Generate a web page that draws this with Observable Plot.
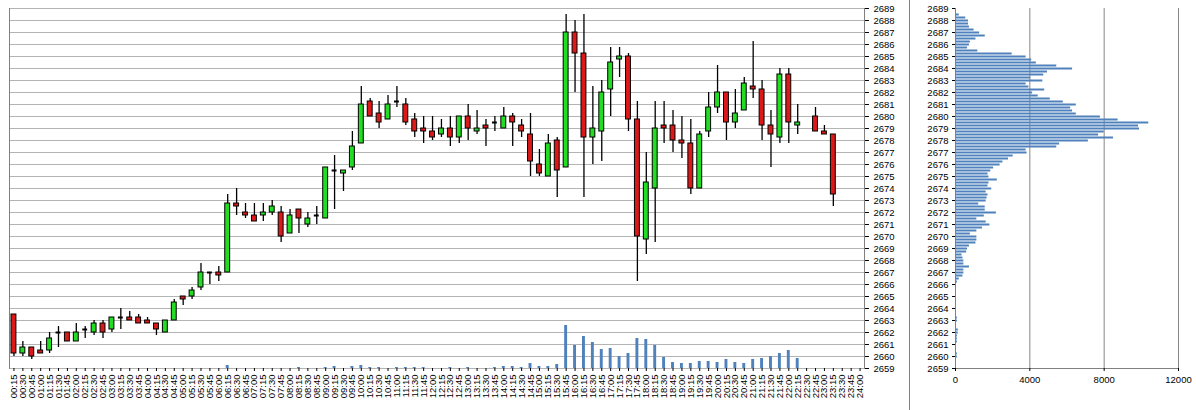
<!DOCTYPE html>
<html>
<head>
<meta charset="utf-8">
<script src="https://cdn.jsdelivr.net/npm/d3@7"></script>
<script src="https://cdn.jsdelivr.net/npm/@observablehq/plot@0.6"></script>
<style>
  html, body { margin: 0; padding: 0; background: #fff; }
  #wrap { display: flex; width: 1196px; height: 410px; overflow: hidden; }
  #left { width: 909px; height: 410px; }
  #right { width: 286px; height: 410px; border-left: 1px solid #808080; }
  svg { display: block; }
</style>
</head>
<body>
<div id="wrap"><div id="left"></div><div id="right"></div></div>
<script>
const times = ["00:15","00:30","00:45","01:00","01:15","01:30","01:45","02:00","02:15","02:30","02:45","03:00",
"03:15","03:30","03:45","04:00","04:15","04:30","04:45","05:00","05:15","05:30","05:45","06:00",
"06:15","06:30","06:45","07:00","07:15","07:30","07:45","08:00","08:15","08:30","08:45","09:00",
"09:15","09:30","09:45","10:00","10:15","10:30","10:45","11:00","11:15","11:30","11:45","12:00",
"12:15","12:30","12:45","13:00","13:15","13:30","13:45","14:00","14:15","14:30","14:45","15:00",
"15:15","15:30","15:45","16:00","16:15","16:30","16:45","17:00","17:15","17:30","17:45","18:00",
"18:15","18:30","18:45","19:00","19:15","19:30","19:45","20:00","20:15","20:30","20:45","21:00",
"21:15","21:30","21:45","22:00","22:15","22:30","22:45","23:00","23:15","23:30","23:45","24:00"];

const open = [2663.5,2660.25,2660.75,2660.5,2660.5,2662,2662,2661.25,2662.25,2662,2662.75,2662.25,
2663.25,2663.25,2663.25,2663,2662.75,2662,2663,2665,2665,2665.75,2667,2667,
2667,2672.75,2672,2671.75,2671.75,2672,2672,2670.25,2672.25,2671,2671.75,2671.5,
2675.5,2675.25,2675.75,2677.75,2681.25,2680.25,2679.75,2681.25,2681,2679.75,2679,2678.75,
2678.5,2679,2678.25,2680,2678.75,2679.25,2679.5,2679,2680,2679.25,2678.5,2676,
2675,2678,2675.75,2687,2685.25,2678.25,2678.75,2682.25,2684.75,2685,2679.75,2669.75,
2674,2679.25,2679.25,2678,2677.75,2674,2678.75,2680.75,2682,2679.5,2680.5,2682.5,
2682.25,2679.25,2678.25,2683.5,2679.25,null,2680,2678.75,2678.5,null,null,null];

const high = [2663.5,2661.25,2660.75,2661.25,2662,2662.5,2662,2662.75,2662.5,2663,2663,2663.25,
2664,2663.75,2663.5,2663.25,2662.75,2663,2664.75,2665,2665.75,2667.75,2667,2667.5,
2673.5,2674,2672.75,2672.75,2672.75,2673,2672.5,2672.25,2672.25,2672,2672.5,2675.75,
2676.75,2675.5,2678.75,2682.5,2681.5,2681.25,2681.75,2682.5,2681.5,2680.25,2680,2680,
2679.75,2680,2680,2681,2680.5,2679.75,2680,2680.75,2680.25,2679.75,2680.25,2677.25,
2678.5,2678.25,2688.5,2688,2688.5,2682.5,2683,2685.75,2685.75,2685.25,2681.25,2677,
2681.25,2681.25,2680.5,2680,2679.75,2678.75,2682,2684.25,2682,2682.25,2683.25,2686.25,
2683,2680.5,2684,2684,2681,null,2680.75,2679.25,2678.5,null,null,null];

const low = [2660,2660,2659.75,2660.25,2660.25,2660.75,2661.25,2661.25,2661.5,2661.75,2661.5,2662,
2662.25,2663,2662.75,2662.75,2661.75,2662,2663,2664.25,2664.75,2665.5,2666,2666.25,
2667,2671.75,2671.5,2671.25,2671.25,2671.75,2669.5,2670.25,2670.25,2670.75,2671,2671.5,
2672.25,2673.75,2675.5,2677.75,2680,2679,2679.75,2680.75,2679.25,2678.25,2677.75,2678,
2678.25,2677.5,2677.75,2678,2678.5,2677.5,2678.75,2679,2677.5,2678.25,2675,2675,
2675,2673.25,2675.75,2682,2673.25,2676,2676.25,2680,2683.25,2678.75,2666.25,2668.5,
2669.5,2677.75,2677,2676.5,2673.5,2674,2678.25,2680.25,2678,2679,2680.5,2681.5,
2678,2675.75,2677.75,2677.75,2678.5,null,2678.75,2678.5,2672.5,null,null,null];

const close = [2660.25,2660.75,2660,2660.25,2661.5,2662,2661.25,2662,2662.25,2662.75,2662,2663.25,
2663.25,2663,2662.75,2662.75,2662.25,2663,2664.5,2664.75,2665.5,2667,2667,2666.75,
2672.75,2672.5,2671.75,2671.25,2672,2672.5,2670,2671.75,2671.5,2671.5,2671.75,2675.75,
2675.5,2675.5,2677.5,2681,2680,2679.5,2681,2681.25,2679.5,2678.75,2678.75,2678.25,
2679,2678.25,2680,2679,2679,2679,2679.5,2680,2679.5,2678.75,2676.25,2675.25,
2677.75,2675.5,2687,2685.25,2678.25,2679,2682,2684.5,2685,2679.75,2670,2674.5,
2679,2679,2678,2677.75,2674,2678.5,2680.75,2682,2679.5,2680.25,2682.75,2682.25,
2679.25,2678.5,2683.5,2679.5,2679.5,null,2678.75,2678.5,2673.5,null,null,null];

const volume = [0,0,0,0,0,0,0,0,0,0,0,0,
0,0,0,0,0,0,0,0,0,0,0,0,
300,0,0,0,0,0,0,0,100,0,0,100,
200,0,200,300,100,100,0,100,100,100,100,0,
0,100,0,100,0,0,100,200,200,100,500,200,
200,400,4300,2300,3200,2600,1900,2000,1200,1500,3000,2900,
2300,1100,600,500,500,700,700,600,900,600,500,900,
1000,1200,1500,1800,1000,0,0,0,0,0,0,0];

const profilePrice = [2688.5,2688.25,2688,2687.75,2687.5,2687.25,2687,2686.75,2686.5,2686.25,2686,2685.75,
2685.5,2685.25,2685,2684.75,2684.5,2684.25,2684,2683.75,2683.5,2683.25,2683,2682.75,
2682.5,2682.25,2682,2681.75,2681.5,2681.25,2681,2680.75,2680.5,2680.25,2680,2679.75,
2679.5,2679.25,2679,2678.75,2678.5,2678.25,2678,2677.75,2677.5,2677.25,2677,2676.75,
2676.5,2676.25,2676,2675.75,2675.5,2675.25,2675,2674.75,2674.5,2674.25,2674,2673.75,
2673.5,2673.25,2673,2672.75,2672.5,2672.25,2672,2671.75,2671.5,2671.25,2671,2670.75,
2670.5,2670.25,2670,2669.75,2669.5,2669.25,2669,2668.75,2668.5,2668.25,2668,2667.75,
2667.5,2667.25,2667,2666.75,2666.5,2666.25,2666,2665.75,2665.5,2665.25,2665,2664.75,
2664.5,2664.25,2664,2663.75,2663.5,2663.25,2663,2662.75,2662.5,2662.25,2662,2661.75,
2661.5,2661.25,2661,2660.75,2660.5,2660.25,2660,2659.75];

const profileVolume = [200,550,700,700,750,1000,1300,1600,1100,800,750,650,
1200,3050,3800,4100,4350,5450,6300,4950,4750,4050,4700,3800,
3950,4800,4150,4450,5100,5800,6500,6200,6300,6500,7800,8750,
10400,9850,9900,8000,7700,8500,7150,5600,5450,3800,3850,3100,
2850,2550,2400,2050,1900,1750,1800,2250,1800,1750,1950,1650,
1750,1700,1650,1250,1600,1600,2200,1550,1150,1650,1850,1450,
1150,800,1150,1150,1100,750,650,600,350,400,450,450,
750,450,450,400,200,100,50,50,50,50,50,50,
50,50,50,50,50,100,100,50,50,150,150,100,
100,100,50,50,50,100,100,50];

const priceTicks = d3.range(2659, 2690);
const profileTicks = [0, 4000, 8000, 12000];

const GREEN = "#22dd22", RED = "#dd1818";
const candles = times.map((t, i) => ({t, o: open[i], h: high[i], l: low[i], c: close[i], v: volume[i]}));
const hasCandle = candles.filter(d => d.o != null);
const bodies = hasCandle.filter(d => d.o !== d.c);
const dojis = hasCandle.filter(d => d.o === d.c);
const vols = candles.filter(d => d.v > 0);
const VOLUNIT = 1200; // volume per price unit on the hidden volume axis

const font = "Liberation Sans, Arial, sans-serif";

const left = Plot.plot({
  width: 909, height: 410,
  marginLeft: 9, marginRight: 45, marginTop: 8, marginBottom: 42,
  style: {fontFamily: font, fontSize: "9.5px", background: "#fff", color: "#000"},
  x: {type: "band", domain: times, padding: 0, label: null},
  y: {domain: [2659, 2689], label: null},
  color: {type: "identity"},
  marks: [
    Plot.ruleY(priceTicks, {stroke: "#b4b4b4", strokeWidth: 1}),
    Plot.frame({anchor: "left", stroke: "#808080"}),
    Plot.frame({anchor: "right", stroke: "#808080"}),
    Plot.barY(vols, {x: "t", y1: 2659, y2: d => 2659 + d.v / VOLUNIT, fill: "#4f81bd", insetLeft: 3, insetRight: 3}),
    Plot.ruleX(hasCandle, {x: "t", y1: "l", y2: "h", stroke: "#000", strokeWidth: 1.3}),
    Plot.barY(bodies, {x: "t", y1: "o", y2: "c", fill: d => d.c > d.o ? GREEN : RED, stroke: "#000", strokeWidth: 1, insetLeft: 2, insetRight: 2}),
    Plot.tickY(dojis, {x: "t", y: "o", stroke: "#000", strokeWidth: 2, insetLeft: 2, insetRight: 2}),
    Plot.axisY(priceTicks, {anchor: "right", tickSize: 4, tickPadding: 5, tickFormat: d => String(d), label: null, textAnchor: "start"}),
    Plot.axisX({tickRotate: -90, tickSize: 3, tickPadding: 3, label: null, fontSize: 9.5})
  ]
});
document.getElementById("left").appendChild(left);

const profile = profilePrice.map((p, i) => ({p, v: profileVolume[i]}));
const right = Plot.plot({
  width: 286, height: 410,
  marginLeft: 45, marginRight: 18, marginTop: 8, marginBottom: 42,
  style: {fontFamily: font, fontSize: "9.5px", background: "#fff", color: "#000"},
  x: {domain: [0, 12000], label: null},
  y: {domain: [2659, 2689], label: null},
  marks: [
    Plot.ruleX(profileTicks.slice(1), {stroke: "#868686"}),
    Plot.ruleY(profile, {y: "p", x1: 0, x2: "v", stroke: "#4f81bd", strokeWidth: 2}),
    Plot.ruleX([0], {stroke: "#808080"}),
    Plot.ruleY([2659], {stroke: "#808080"}),
    Plot.axisY(priceTicks, {anchor: "left", tickSize: 3, tickPadding: 4, tickFormat: d => String(d), label: null}),
    Plot.axisX(profileTicks, {anchor: "bottom", tickSize: 3, tickPadding: 5, tickFormat: d => String(d), label: null})
  ]
});
document.getElementById("right").appendChild(right);
</script>
</body>
</html>
